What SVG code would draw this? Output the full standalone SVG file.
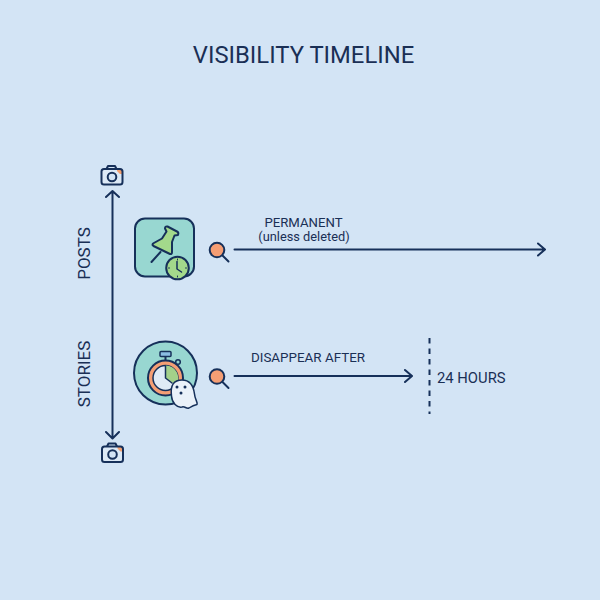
<svg xmlns="http://www.w3.org/2000/svg" width="600" height="600" viewBox="0 0 600 600">
<defs>
<style>
text{font-family:Roboto,"Liberation Sans",sans-serif;fill:#1a2f55}
.l{fill:none;stroke:#16305a;stroke-width:2;stroke-linecap:round;stroke-linejoin:round}
.o{stroke:#16305a;stroke-width:2;stroke-linejoin:round}
</style>
<g id="cam"><path d="M-5.500-7l1.500-3h7l1.500 3" class="l"/><rect x="-10.500" y="-7" width="21" height="15.500" rx="2.500" fill="#dce9f6"/><path d="M5-7h3a2.500 2.500 0 0 1 2.500 2.500V-2h-2.500l-3-3z" fill="#f4a06f"/><rect x="-10.500" y="-7" width="21" height="15.500" rx="2.500" class="l"/><circle cx="0" cy="1" r="4.300" fill="#d3e4f5" class="o"/></g>
<g id="lens"><line x1="5.500" y1="5.500" x2="11.500" y2="11.500" class="l"/><circle cx="0" cy="0" r="7.300" fill="#f59e74" class="o"/></g>
</defs>
<rect width="600" height="600" fill="#d3e4f5"/>
<text x="303.500" y="63" font-size="23.800" font-weight="400" text-anchor="middle">VISIBILITY TIMELINE</text>
<g id="connectors">
<path d="M112.500 192V437M106 197L112.500 191L119 197M106 432L112.500 438.500L119 432" class="l"/>
<path d="M234.500 249.500H544.500M538 243.500L545 249.500L538 255.500" class="l"/>
<path d="M234.500 376H411.500M405 370L412 376L405 382" class="l"/>
<line x1="429.500" y1="338" x2="429.500" y2="414" class="l" stroke-dasharray="5.500 5" style="stroke-linecap:butt"/>
</g>
<g id="camera-top"><use href="#cam" x="112" y="176"/></g>
<g id="camera-bottom"><use href="#cam" x="112.500" y="453.500"/></g>
<g id="label-posts"><text transform="translate(90 253.500) rotate(-90)" font-size="17" text-anchor="middle">POSTS</text></g>
<g id="label-stories"><text transform="translate(90 374) rotate(-90)" font-size="17" text-anchor="middle">STORIES</text></g>
<g id="posts-icon">
<rect x="135" y="218.500" width="59" height="58" rx="10" fill="#98d7d1" class="o"/>
<path d="M160.500 252L151.500 262" class="l"/>
<path d="M166.500 231.500L162 238.500L153 243.500Q152 245 153.500 246L170 254Q172 254.500 172 252L172 242L174.500 235.500L178 235Q179 232.500 177 231.500L167.500 226.500Q165 226 165 228.500Z" fill="#a3d98b" class="o"/>
<circle cx="177.500" cy="268" r="11.300" fill="#a3d98b" class="o"/>
<path d="M177 261.500V269L181.500 272" class="l" style="stroke-width:1.500"/>
<path d="M177.500 259v1M177.500 276v1M168.500 268h1M185.500 268h1" class="l" style="stroke-width:1"/>
</g>
<g id="posts-lens"><use href="#lens" x="217" y="250"/></g>
<g id="stories-icon">
<circle cx="165.500" cy="373" r="31.500" fill="#98d7d1" class="o"/>
<rect x="160" y="351.500" width="11" height="5" rx="1" fill="#8bbde3" class="o" style="stroke-width:1.500"/>
<path d="M165.500 357v3" class="l"/>
<circle cx="178" cy="362" r="2.300" fill="#98d7d1" class="o" style="stroke-width:1.500"/>
<circle cx="165.500" cy="378" r="17.500" fill="#f59e74" class="o"/>
<circle cx="165.500" cy="378" r="12.500" fill="#dfeaf6" class="o" style="stroke-width:1.500"/>
<path d="M165.500 365.500A12.500 12.500 0 0 1 176 385L165.500 378Z" fill="#a3d08a"/>
<path d="M165.500 366V378L172 383" class="l" style="stroke-width:1.500"/>
<path d="M171.500 396C170 385 174 380 182 380C190 380 193.500 386 194.500 394C195 400 198 402 197 404.500C194 405 192 406 189 408C186 409 185 406 182 407C177 408 172 403 171.500 396Z" fill="#eaf1f9" class="o" style="stroke-width:1.500"/>
<circle cx="177" cy="387" r="1.500" fill="#16305a"/><circle cx="185" cy="387" r="1.500" fill="#16305a"/><circle cx="181" cy="393" r="1.500" fill="#16305a"/>
</g>
<g id="stories-lens"><use href="#lens" x="217" y="376.500"/></g>
<g id="label-permanent"><text x="303.500" y="226.500" font-size="13.200" text-anchor="middle">PERMANENT</text><text x="304" y="241" font-size="12.800" text-anchor="middle">(unless deleted)</text></g>
<g id="label-disappear"><text x="308" y="362" font-size="13.400" text-anchor="middle">DISAPPEAR AFTER</text></g>
<g id="label-24"><text x="437" y="383" font-size="14.800">24 HOURS</text></g>
</svg>
